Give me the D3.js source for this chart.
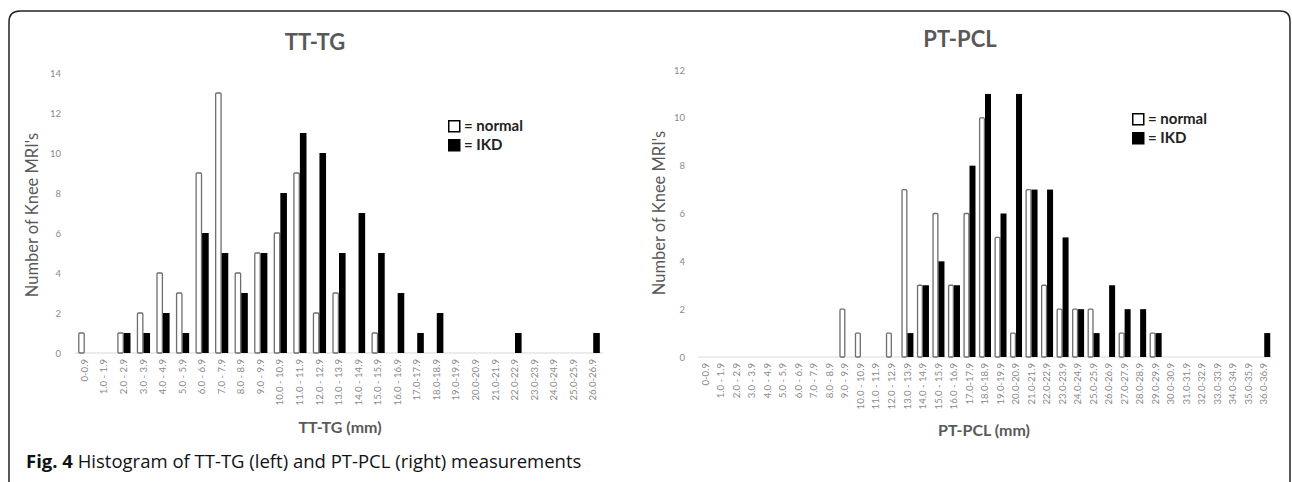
<!DOCTYPE html>
<html>
<head>
<meta charset="utf-8">
<script src="https://cdn.jsdelivr.net/npm/d3@7"></script>
<style>
  html, body { margin: 0; padding: 0; background: #fff; }
  svg { display: block; }
</style>
</head>
<body>
<svg id="chart" width="1292" height="482"></svg>
<script>
// ---------- DATA ----------
function binLabel(i) {
  if (i === 0) return "0-0.9";
  if (i <= 16) return i + ".0 - " + i + ".9";
  return i + ".0-" + i + ".9";
}
const ttCategories = d3.range(27).map(binLabel);
const ttNormal = [1,0,1,2,4,3,9,13,4,5,6,9,2,3,0,1,0,0,0,0,0,0,0,0,0,0,0];
const ttIKD    = [0,0,1,1,2,1,6,5,3,5,8,11,10,5,7,5,3,1,2,0,0,0,1,0,0,0,1];
const ttTicks  = [0,2,4,6,8,10,12,14];

const ptCategories = d3.range(37).map(binLabel);
const ptNormal = [0,0,0,0,0,0,0,0,0,2,1,0,1,7,3,6,3,6,10,5,1,7,3,2,2,2,0,1,0,1,0,0,0,0,0,0,0];
const ptIKD    = [0,0,0,0,0,0,0,0,0,0,0,0,0,1,3,4,3,8,11,6,11,7,7,5,2,1,3,2,2,1,0,0,0,0,0,0,1];
const ptTicks  = [0,2,4,6,8,10,12];

const seriesNames = ["= normal", "= IKD"];

// ---------- DRAW ----------
const svg = d3.select("#chart");
const chartFont = "Lato, 'Open Sans', sans-serif";

// outer frame
svg.append("path")
  .attr("d", "M9,500 L9,22 Q9,11 20,11 L1280,11 Q1290,11 1290,21 L1290,500")
  .attr("fill", "none").attr("stroke", "#222").attr("stroke-width", 1.5);

function drawChart(cfg) {
  const g = svg.append("g");
  const x = d3.scaleBand().domain(cfg.categories).range([cfg.x0, cfg.x1]);
  const y = d3.scaleLinear().domain([0, cfg.ymax]).range([cfg.y0, cfg.y1]);
  const bw = cfg.barW;

  // baseline
  g.append("line")
    .attr("x1", cfg.x0).attr("x2", cfg.x1)
    .attr("y1", y(0)).attr("y2", y(0))
    .attr("stroke", "#d9d9d9").attr("stroke-width", 1.2);

  // y ticks
  const yAxis = d3.axisLeft(y).tickValues(cfg.ticks).tickSize(0).tickPadding(0);
  const ya = g.append("g").attr("transform", `translate(${cfg.yLabX},0)`).call(yAxis);
  ya.select(".domain").remove();
  ya.selectAll("text").attr("font-family", chartFont).attr("font-size", 9.5).attr("fill", "#8a8a8a");

  // x tick labels
  const xAxis = d3.axisBottom(x).tickSize(0).tickPadding(0);
  const xa = g.append("g").attr("transform", `translate(0,${y(0) + 6})`).call(xAxis);
  xa.select(".domain").remove();
  xa.selectAll("text")
    .attr("font-family", chartFont).attr("font-size", 9.6).attr("fill", "#8a8a8a")
    .attr("text-anchor", "end")
    .attr("dy", "0.32em").attr("y", 0)
    .attr("transform", "rotate(-90)")
    .attr("x", 0);

  const center = d => x(d) + x.bandwidth() / 2;

  // normal bars
  g.selectAll(".nb").data(cfg.categories.map((c, i) => ({c, v: cfg.normal[i]})).filter(d => d.v > 0))
    .enter().append("rect")
    .attr("x", d => center(d.c) - bw + 0.6)
    .attr("y", d => y(d.v))
    .attr("width", bw - 1.2)
    .attr("height", d => y(0) - y(d.v))
    .attr("rx", 1)
    .attr("fill", "#fff").attr("stroke", "#6e6e6e").attr("stroke-width", 1.3);

  // IKD bars
  g.selectAll(".ib").data(cfg.categories.map((c, i) => ({c, v: cfg.ikd[i]})).filter(d => d.v > 0))
    .enter().append("rect")
    .attr("x", d => center(d.c))
    .attr("y", d => y(d.v))
    .attr("width", bw)
    .attr("height", d => y(0) - y(d.v))
    .attr("fill", "#000");

  // title
  g.append("text").attr("x", cfg.titleX).attr("y", cfg.titleY)
    .attr("text-anchor", "middle").attr("font-family", chartFont)
    .attr("font-weight", "bold").attr("font-size", 22).attr("fill", "#595959")
    .text(cfg.title);

  // y axis title
  g.append("text")
    .attr("transform", `translate(${cfg.yTitleX},${cfg.yTitleY}) rotate(-90)`)
    .attr("text-anchor", "middle").attr("font-family", chartFont)
    .attr("font-size", 16.5).attr("fill", "#595959")
    .text("Number of Knee MRI's");

  // x axis title
  g.append("text").attr("x", cfg.xTitleX).attr("y", cfg.xTitleY)
    .attr("text-anchor", "middle").attr("font-family", chartFont)
    .attr("font-weight", "bold").attr("font-size", 16).attr("fill", "#595959")
    .text(cfg.xTitle);

  // legend
  const lg = g.append("g").attr("transform", `translate(${cfg.legX},${cfg.legY})`);
  seriesNames.forEach((name, i) => {
    lg.append("rect").attr("x", 0.75).attr("y", i * 19 + 0.75)
      .attr("width", 11).attr("height", 11)
      .attr("fill", i === 0 ? "#fff" : "#000").attr("stroke", "#000").attr("stroke-width", 1.5);
    lg.append("text").attr("x", 16).attr("y", i * 19 + 11)
      .attr("font-family", chartFont).attr("font-size", 15).attr("font-weight", "bold")
      .attr("fill", "#222").text(name);
  });
}

drawChart({
  categories: ttCategories, normal: ttNormal, ikd: ttIKD, ticks: ttTicks,
  x0: 75, x1: 603, y0: 353, y1: 73, ymax: 14, barW: 6.6,
  yLabX: 61, title: "TT-TG", titleX: 315, titleY: 50,
  yTitleX: 38, yTitleY: 215, xTitle: "TT-TG (mm)", xTitleX: 340, xTitleY: 433,
  legX: 448, legY: 120
});

drawChart({
  categories: ptCategories, normal: ptNormal, ikd: ptIKD, ticks: ptTicks,
  x0: 698, x1: 1272, y0: 357, y1: 70, ymax: 12, barW: 6,
  yLabX: 685, title: "PT-PCL", titleX: 960, titleY: 47,
  yTitleX: 665, yTitleY: 213, xTitle: "PT-PCL (mm)", xTitleX: 984, xTitleY: 436,
  legX: 1132, legY: 113
});

// caption
const cap = svg.append("text").attr("x", 26).attr("y", 468)
  .attr("font-family", "'Open Sans', sans-serif").attr("font-size", 18.5).attr("fill", "#111");
cap.append("tspan").attr("font-weight", "bold").text("Fig. 4");
cap.append("tspan").text(" Histogram of TT-TG (left) and PT-PCL (right) measurements");
</script>
</body>
</html>
